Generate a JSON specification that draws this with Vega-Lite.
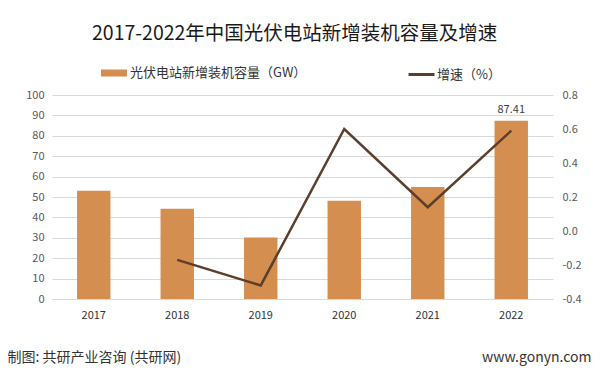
{
  "$schema": "https://vega.github.io/schema/vega-lite/v6.json",
  "autosize": {"type": "none"},
  "width": 501,
  "height": 204,
  "padding": {"left": 52, "top": 95, "right": 47, "bottom": 76},
  "background": "white",
  "title": {
    "text": "2017-2022年中国光伏电站新增装机容量及增速",
    "anchor": "start",
    "frame": "group",
    "dx": 40,
    "offset": 16,
    "font": "Noto Sans CJK SC",
    "fontSize": 19.5,
    "fontWeight": "normal",
    "color": "#1a1a1a"
  },
  "data": {
    "values": [
      {"year": "2017", "capacity": 53.06, "growth": null},
      {"year": "2018", "capacity": 44.26, "growth": -0.17},
      {"year": "2019", "capacity": 30.11, "growth": -0.32},
      {"year": "2020", "capacity": 48.2, "growth": 0.60},
      {"year": "2021", "capacity": 54.88, "growth": 0.14},
      {"year": "2022", "capacity": 87.41, "growth": 0.59}
    ]
  },
  "layer": [
    {
      "mark": {"type": "bar"},
      "encoding": {
        "x": {
          "field": "year", "type": "nominal",
          "scale": {"paddingInner": 0.6, "paddingOuter": 0.3},
          "axis": {
            "title": "制图: 共研产业咨询 (共研网)",
            "titleX": -45, "titleY": 58, "titleAlign": "left", "titleBaseline": "middle",
            "titleFont": "Noto Sans CJK SC", "titleFontSize": 14, "titleFontWeight": "normal", "titleColor": "#333333",
            "labelAngle": 0, "ticks": false, "labelPadding": 10,
            "labelFont": "Noto Sans CJK SC", "labelFontSize": 11, "labelColor": "#333333",
            "domainColor": "#d9d9d9", "grid": false
          }
        },
        "y": {
          "field": "capacity", "type": "quantitative",
          "scale": {"domain": [0, 100]},
          "axis": {
            "title": null, "orient": "left", "values": [0,10,20,30,40,50,60,70,80,90,100],
            "labelOverlap": false,
            "ticks": false, "domain": false, "labelPadding": 8,
            "labelFont": "Noto Sans CJK SC", "labelFontSize": 11, "labelColor": "#595959",
            "grid": true, "gridColor": "#d9d9d9", "gridWidth": 1
          }
        },
        "fill": {
          "datum": "光伏电站新增装机容量（GW）",
          "scale": {"range": ["#D38E50"]},
          "legend": {
            "title": null, "orient": "none", "legendX": 49, "legendY": -35, "padding": 0,
            "symbolType": "M-1,-0.27H1V0.27H-1Z", "symbolSize": 676, "symbolStrokeWidth": 0,
            "labelOffset": 3, "labelLimit": 400, "labelFont": "Noto Sans CJK SC", "labelFontSize": 13, "labelColor": "#333333"
          }
        }
      }
    },
    {
      "transform": [{"filter": "datum.year == '2022'"}],
      "mark": {"type": "text", "baseline": "bottom", "dy": -6, "font": "Noto Sans CJK SC", "fontSize": 11, "color": "#404040"},
      "encoding": {
        "x": {"field": "year", "type": "nominal", "axis": null},
        "y": {"field": "capacity", "type": "quantitative", "scale": {"domain": [0, 100]}, "axis": null},
        "text": {"field": "capacity", "type": "quantitative", "format": ".2f"}
      }
    },
    {
      "mark": {"type": "line", "strokeWidth": 2.5},
      "encoding": {
        "x": {
          "field": "year", "type": "nominal",
          "axis": {
            "orient": "bottom", "title": "www.gonyn.com",
            "titleX": 539, "titleY": 58, "titleAlign": "right", "titleBaseline": "middle",
            "titleFont": "Noto Sans CJK SC", "titleFontSize": 14, "titleFontWeight": "normal", "titleColor": "#333333",
            "labels": false, "ticks": false, "domain": false, "grid": false
          }
        },
        "y": {
          "field": "growth", "type": "quantitative",
          "scale": {"domain": [-0.4, 0.8]},
          "axis": {
            "title": null, "orient": "right", "values": [-0.4,-0.2,0,0.2,0.4,0.6,0.8],
            "labelOverlap": false,
            "labelExpr": "replace(datum.label, '\u2212', '-')",
            "ticks": false, "domain": false, "grid": false, "labelPadding": 9,
            "labelFont": "Noto Sans CJK SC", "labelFontSize": 11, "labelColor": "#595959"
          }
        },
        "stroke": {
          "datum": "增速（%）",
          "scale": {"range": ["#5B3F2C"]},
          "legend": {
            "title": null, "orient": "none", "legendX": 355, "legendY": -35, "padding": 0,
            "symbolType": "stroke", "symbolSize": 676, "symbolStrokeWidth": 3,
            "labelOffset": 1, "labelLimit": 200, "labelFont": "Noto Sans CJK SC", "labelFontSize": 13, "labelColor": "#333333"
          }
        }
      }
    }
  ],
  "resolve": {"scale": {"y": "independent"}, "axis": {"x": "independent"}},
  "config": {"view": {"stroke": null}}
}
